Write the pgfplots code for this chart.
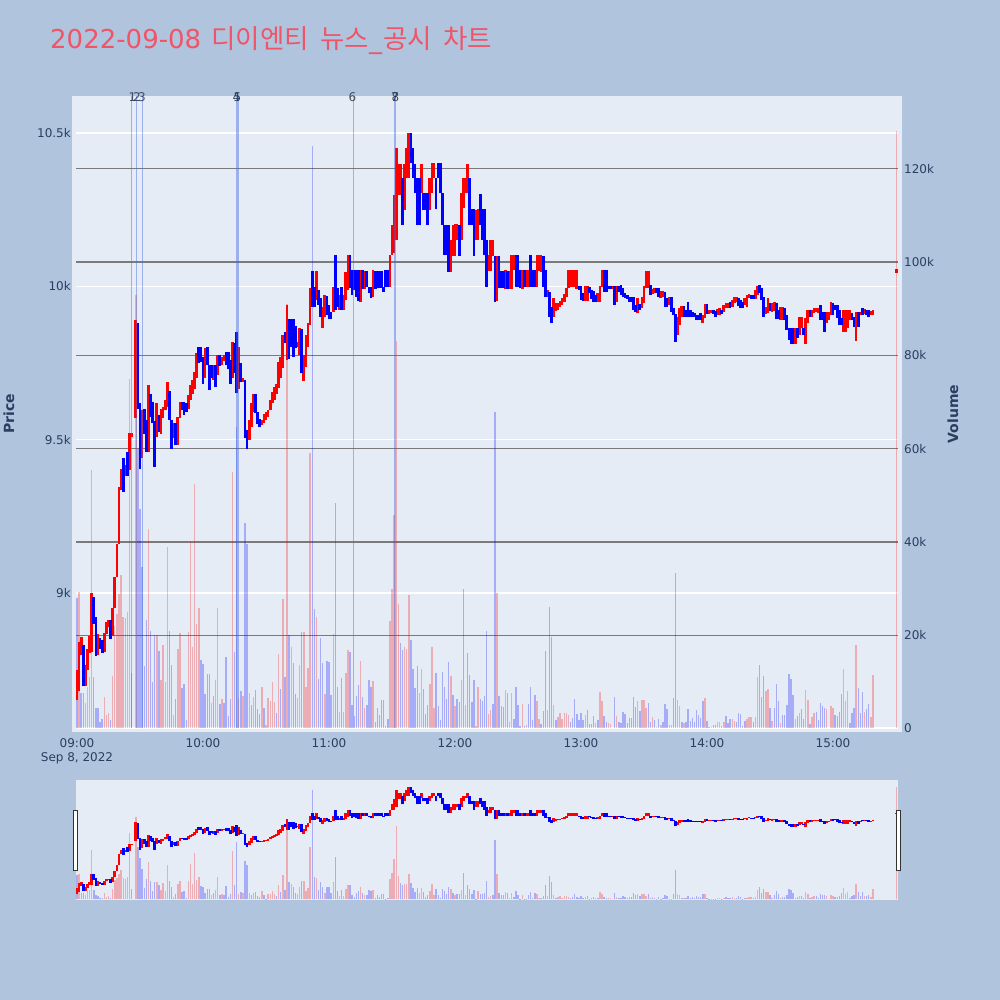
\documentclass[border=0pt]{standalone}
\usepackage{pgfplots}
\usepackage{pgfplotstable}
\pgfplotsset{compat=1.18}
\usepackage{fontspec}
\setmainfont{DejaVu Sans}
\newfontfamily\krfont{Noto Sans CJK KR}
\definecolor{pagebg}{HTML}{B0C4DE}
\definecolor{plotbg}{HTML}{E5ECF6}
\definecolor{tickc}{HTML}{2A3F5F}
\definecolor{titlec}{HTML}{EF5567}
\definecolor{newsc}{HTML}{4169E1}
\pgfplotstableread{
m lo hi
0 8650 8750
1 8680 8840
2 8797 8857
4 8696 8765
5 8749 8819
6 8803 8860
7 8808 8999
10 8797 8868
13 8808 8870
14 8868 8906
15 8890 8911
17 8860 8950
18 8950 9053
19 9053 9159
20 9159 9346
21 9336 9403
23 9381 9417
25 9401 9522
26 9510 9522
28 9570 9890
31 9439 9596
34 9460 9678
38 9509 9620
40 9520 9600
41 9570 9607
42 9596 9629
43 9607 9689
46 9504 9553
48 9482 9575
49 9570 9624
53 9600 9645
54 9630 9678
55 9650 9694
56 9665 9721
57 9700 9781
61 9700 9798
65 9696 9743
67 9711 9776
69 9743 9770
70 9757 9776
74 9700 9819
77 9664 9801
79 9689 9700
82 9500 9564
83 9540 9618
84 9590 9649
88 9548 9564
89 9553 9585
90 9564 9591
91 9575 9596
92 9596 9629
93 9620 9656
94 9630 9672
95 9650 9683
96 9670 9754
97 9700 9770
98 9733 9841
100 9760 9939
105 9803 9819
106 9776 9863
108 9692 9776
109 9738 9841
110 9803 9879
111 9874 9993
114 9955 10050
117 9863 9931
118 9901 9971
122 9917 9999
125 9923 9971
127 9923 9971
128 9955 10048
129 9988 10102
135 9948 10053
137 9990 10050
141 9966 10053
149 9999 10102
150 10102 10200
151 10107 10298
152 10151 10450
153 10298 10399
154 10298 10399
156 10249 10399
157 10352 10450
158 10352 10499
164 10303 10399
168 10249 10352
169 10303 10403
170 10352 10403
178 10048 10151
179 10099 10200
180 10099 10203
181 10151 10203
183 10151 10303
184 10254 10352
185 10303 10352
186 10303 10399
190 10151 10249
191 10151 10251
196 10050 10102
197 10050 10151
198 10100 10151
200 9953 10100
204 9991 10053
206 9991 10050
207 9991 10102
208 10053 10102
212 9991 10053
214 9999 10053
215 9999 10053
219 9999 10102
220 10050 10102
221 10048 10102
224 9966 9988
227 9899 9961
228 9920 9944
229 9923 9944
230 9933 9953
231 9939 9961
232 9950 9975
233 9966 9993
234 9993 10053
235 9999 10053
236 9999 10053
237 9999 10053
238 9991 10053
242 9953 10002
243 9953 10002
248 9948 9977
249 9948 10002
250 9999 10053
255 9991 10002
257 9950 10002
267 9912 9961
269 9928 9966
270 9944 10000
271 9993 10051
272 9993 10051
274 9975 9990
275 9977 9993
278 9961 9986
279 9964 9986
282 9939 9964
286 9841 9901
287 9874 9928
288 9901 9936
298 9881 9906
299 9896 9942
301 9910 9923
302 9912 9923
305 9906 9925
306 9906 9928
308 9917 9939
309 9928 9944
310 9928 9944
312 9934 9955
313 9944 9964
314 9950 9964
318 9939 9961
319 9934 9972
320 9961 9975
323 9958 9988
324 9972 10001
328 9910 9934
329 9912 9961
331 9917 9944
332 9921 9950
335 9890 9934
336 9890 9934
342 9811 9863
344 9841 9899
345 9863 9899
347 9811 9896
348 9881 9923
350 9901 9923
351 9914 9930
352 9917 9930
353 9912 9930
357 9881 9917
358 9890 9917
359 9906 9950
365 9852 9923
366 9852 9923
367 9863 9923
368 9890 9923
371 9822 9915
373 9906 9917
375 9910 9925
378 9906 9919
379 9906 9923
390.3 10045 10055
}\redcandles
\pgfplotstableread{
m lo hi
3 8696 8832
8 8900 8988
9 8794 8922
11 8819 8852
12 8805 8846
16 8849 8911
22 9330 9439
24 9381 9460
29 9600 9880
30 9406 9620
32 9520 9600
33 9460 9564
35 9575 9649
36 9553 9624
37 9411 9560
39 9526 9580
44 9564 9658
45 9471 9564
47 9482 9553
50 9596 9624
51 9580 9624
52 9590 9620
58 9750 9801
59 9754 9801
60 9681 9770
62 9743 9801
63 9662 9743
64 9700 9743
66 9673 9743
68 9740 9776
71 9743 9787
72 9732 9787
73 9681 9760
75 9716 9814
76 9651 9850
78 9689 9749
80 9504 9694
81 9471 9531
85 9588 9649
86 9551 9591
87 9542 9569
99 9814 9852
101 9762 9892
102 9803 9892
103 9770 9892
104 9798 9870
107 9716 9860
112 9933 10050
113 9931 9999
115 9939 9988
116 9901 9961
119 9906 9968
120 9892 9939
121 9892 9917
123 9923 10102
124 9933 9993
126 9923 9999
130 9993 10102
131 9971 10053
132 9988 10053
133 9966 10053
134 9953 10053
136 9990 10053
138 9999 10050
139 9977 9999
140 9961 9999
142 9991 10050
143 9993 10050
144 9993 10050
145 9996 10050
146 9980 9999
147 9999 10053
148 9999 10053
155 10200 10352
159 10401 10499
160 10352 10450
161 10303 10399
162 10200 10352
163 10200 10352
165 10249 10303
166 10249 10303
167 10200 10303
171 10251 10352
172 10352 10401
173 10303 10401
174 10200 10303
175 10102 10200
176 10102 10200
177 10048 10200
182 10100 10200
187 10200 10352
188 10200 10251
189 10100 10251
192 10200 10301
193 10151 10251
194 10102 10251
195 9999 10151
199 9950 10100
201 9993 10100
202 9993 10050
203 9993 10050
205 9991 10050
209 9999 10102
210 9999 10102
211 9993 10053
213 9999 10053
216 9999 10102
217 9999 10053
218 9999 10053
222 9999 10100
223 9966 10053
225 9901 9982
226 9882 9933
239 9988 10002
240 9955 10002
241 9953 9977
244 9977 9999
245 9958 9988
246 9948 9984
247 9948 9972
251 9982 10053
252 9982 10053
253 9991 10002
254 9991 10002
256 9939 10002
258 9982 10002
259 9972 10004
260 9966 9993
261 9961 9979
262 9958 9972
263 9950 9966
264 9950 9964
265 9923 9964
266 9917 9939
268 9923 9941
273 9972 10004
276 9977 9993
277 9966 9993
280 9934 9982
281 9934 9961
283 9917 9964
284 9906 9928
285 9819 9910
289 9899 9936
290 9899 9923
291 9901 9950
292 9901 9923
293 9899 9917
294 9899 9914
295 9890 9906
296 9890 9906
297 9890 9914
300 9910 9942
303 9910 9923
304 9901 9921
307 9910 9923
311 9928 9950
315 9936 9961
316 9928 9955
317 9928 9950
321 9958 9972
322 9958 9972
325 9977 10004
326 9955 9993
327 9901 9966
330 9921 9944
333 9892 9944
334 9892 9923
337 9890 9928
338 9857 9906
339 9825 9863
340 9811 9863
341 9811 9863
343 9830 9863
346 9841 9863
349 9899 9923
354 9890 9939
355 9890 9917
356 9852 9917
360 9906 9944
361 9923 9939
362 9896 9939
363 9874 9923
364 9874 9896
369 9890 9912
370 9868 9901
372 9868 9917
374 9906 9928
376 9906 9923
377 9899 9923
}\bluecandles
\pgfplotstableread{
m v
1 29.3
4 5.4
5 9
6 11
7 55.5
13 6.8
14 2.9
15 3.4
17 11.2
18 22
19 24.5
20 28.8
21 33
22 24
23 23.6
24 25
25 75
28 93
34 42.7
38 20
40 10.5
41 18
42 10
43 39
46 2.9
48 17
49 20.4
53 20.6
54 40
55 17.4
56 52.4
57 22.5
58 25.9
64 5.4
66 10.4
67 25.9
69 6.3
74 55
77 6.6
79 6.9
82 7.7
84 6.8
88 9
90 0.7
91 6.6
92 5.9
93 10
94 5.7
96 16
98 27.7
100 91
102 17.5
105 6.6
106 13.6
108 20.6
109 9
110 12.9
111 59
114 23.8
118 7.5
122 20.2
125 3.6
127 3.6
128 11.9
129 16.8
135 14.4
137 4.5
141 10.2
149 23
150 30
151 45.7
152 83
153 26.7
156 17.4
157 17
158 28.7
163 7.7
164 12.8
168 9.5
169 17.4
170 4.4
178 11.2
180 4.8
183 10.4
185 5
190 0.6
191 9
196 3.1
197 3.9
200 29
204 8.2
206 1.4
207 7.7
212 5.2
214 0.7
219 5.9
220 2
224 4
227 5.1
229 2.4
230 3.4
231 2
232 3.4
233 3.4
234 3
242 3
247 1.1
249 7.9
250 5.8
253 1.1
254 1
257 2.6
267 5.9
269 6.1
270 6.1
271 4.3
274 2.5
276 0.4
278 0.8
282 0.7
283 0.7
286 6.1
287 4.8
289 1.1
299 6.5
302 0.3
305 1.3
306 1.3
308 1.5
312 2.1
313 1.6
319 2
320 2.4
321 2.4
323 2.5
324 11.1
328 8.1
329 8.4
331 1.6
335 1.2
342 2
344 3.3
347 8.3
348 6.1
350 2.5
351 3.4
357 4.2
359 4.9
360 4.3
365 12.7
366 5.8
367 8
371 17.8
375 3.6
378 2.5
379 11.4
390.3 128
}\redvol
\pgfplotstableread{
m v
0 27.9
2 7.6
3 7.6
8 11
9 4.5
10 4.3
11 1.4
12 2
16 1.8
26 11.8
29 60
30 47
31 34.7
32 13.4
33 23.2
35 21
36 10
37 20
39 16.7
44 21
45 13.6
47 6.4
50 8.6
51 9.6
52 1.9
59 14.6
60 13.8
61 7.4
62 11.6
63 11.6
65 7
68 5.2
70 5.4
71 15.4
72 2.6
73 6.3
75 16.4
76 64.7
78 8
80 44
81 39.5
83 5
85 8.2
86 4.1
87 3.2
89 4.5
95 3.4
97 8.4
99 11
101 20
103 14
104 7.4
107 20.6
112 124.8
113 25.6
115 10.7
116 19.4
117 14
119 14.4
120 14.2
121 7.2
123 48.3
124 9
126 10.9
130 16.4
131 5
132 2.7
133 7
134 9.4
136 6.8
138 5
139 10.4
140 9
142 1.3
143 4.5
144 3
145 6.1
146 6.2
147 0.6
148 2
154 18.3
155 16.8
159 19
160 12.7
161 8.6
162 13.4
165 8.5
166 3.2
167 5
171 11.8
172 4.8
173 1.8
174 12.2
175 9
176 6.3
177 14.3
179 7.2
181 6.4
182 5.7
184 30
186 16.1
187 11.4
188 5.7
189 10.4
192 6.3
193 5.9
194 6.9
195 21
198 5.2
199 67.8
201 6.9
202 4.8
203 4.6
205 7.7
208 2.1
209 9
210 5
211 0.6
213 0.5
215 5.3
216 8.8
217 1.8
218 7.2
221 1
222 3.8
223 16.7
225 26
226 19.7
228 1.8
235 1.4
236 2.2
237 6.4
238 3.2
239 1.9
240 3.4
241 1.9
243 4
244 0.9
245 1
246 2.6
248 1.8
251 2.6
252 1.3
256 6.8
258 1.3
259 1.1
260 3.5
261 3.2
262 1.1
263 2.3
264 2.3
265 6.7
266 4.7
268 3.8
272 5.5
273 1.5
275 1.8
277 2.1
279 1.3
280 5.3
281 4.2
284 6.5
285 33.3
288 1.5
290 1.4
291 4.1
292 1.6
293 2.2
294 1.3
295 3.9
296 2.8
297 2.3
298 5.8
300 1.6
301 0.3
303 0.7
304 0.7
307 0.5
309 2.6
310 1.1
311 2
314 1.3
315 3.3
316 3.1
317 0.5
318 1.6
322 1.3
325 13.7
326 6.7
327 11.3
330 4.5
332 4.5
333 9.5
334 5.9
336 2.9
337 3
338 5
339 11.6
340 10.7
341 7.2
343 2.6
345 4.1
346 2
349 1
352 3.5
353 1.8
354 5.5
355 4.9
356 4.5
361 2.8
362 2.7
363 3.5
364 7.4
368 1.1
369 3.4
370 4.5
372 8.6
373 3.3
374 7.8
376 4.1
377 5.3
}\bluevol
\pgfplotsset{
  base/.style={scale only axis, width=830pt, height=636pt, at={(72pt,268pt)}, anchor=south west,
    xmin=-2.38, xmax=392.86, axis line style={draw=none}, major tick length=0pt, clip=true,
    xtick=\empty, ytick=\empty, scaled ticks=false,
    tick label style={font=\fontsize{12}{12}\selectfont, text=tickc}},
  priceaxis/.style={ymin=8547, ymax=10620.5},
  volaxis/.style={ymin=-0.75, ymax=135.6},
  mini/.style={scale only axis, width=822pt, height=120pt, at={(76pt,100pt)}, anchor=south west,
    xmin=-0.48, xmax=390.95, axis line style={draw=none}, major tick length=0pt, clip=true,
    xtick=\empty, ytick=\empty, scaled ticks=false},
  candle/.style={draw=none, mark=none, error bars/.cd, y dir=plus, y explicit,
    error mark=none, error bar style={line width=2.7pt, solid, draw=#1}},
  vol/.style={ycomb, mark=none, draw=#1, draw opacity=0.27, line width=1.4pt},
  news/.style={draw=newsc, draw opacity=0.45, line width=#1},
}
\newcommand{\candles}{%
  \addplot[candle=red] table[x=m,y=lo,y error plus expr=\thisrow{hi}-\thisrow{lo}] {\redcandles};
  \addplot[candle=blue] table[x=m,y=lo,y error plus expr=\thisrow{hi}-\thisrow{lo}] {\bluecandles};
}
\newcommand{\volumes}{%
  \addplot[vol=red] table[x=m,y=v] {\redvol};
  \addplot[vol=blue] table[x=m,y=v] {\bluevol};
}
\begin{document}
\begin{tikzpicture}
\fill[pagebg] (0pt,0pt) rectangle (1000pt,1000pt);
% price axis: background, white grid, price ticks
\begin{axis}[base, priceaxis, axis background/.style={fill=plotbg},
  ytick={9000,9500,10000,10500}, yticklabels={9k,9.5k,10k,10.5k},
  yticklabel style={inner sep=0pt, xshift=-1pt},
  xtick={0,60,120,180,240,300,360}, xticklabels={09:00,10:00,11:00,12:00,13:00,14:00,15:00},
  xticklabel style={inner sep=0pt, yshift=-6pt}]
\addplot[white, line width=1.3pt] coordinates {(-0.48,9000) (390.95,9000)};
\addplot[white, line width=1.3pt] coordinates {(-0.48,9500) (390.95,9500)};
\addplot[white, line width=1.3pt] coordinates {(-0.48,10000) (390.95,10000)};
\addplot[white, line width=1.3pt] coordinates {(-0.48,10500) (390.95,10500)};
\end{axis}
% volume axis: grid, bars
\begin{axis}[base, volaxis, ytick pos=right, yticklabel pos=right,
  ytick={0,20,40,60,80,100,120}, yticklabels={0,20k,40k,60k,80k,100k,120k},
  yticklabel style={inner sep=0pt, xshift=2pt}]
\addplot[white, line width=2pt] coordinates {(-0.48,0) (390.95,0)};
\addplot[black!52, line width=1.2pt] coordinates {(-0.48,20) (390.95,20)};
\addplot[black!52, line width=1.2pt] coordinates {(-0.48,40) (390.95,40)};
\addplot[black!52, line width=1.2pt] coordinates {(-0.48,60) (390.95,60)};
\addplot[black!52, line width=1.2pt] coordinates {(-0.48,80) (390.95,80)};
\addplot[black!52, line width=1.2pt] coordinates {(-0.48,100) (390.95,100)};
\addplot[black!52, line width=1.2pt] coordinates {(-0.48,120) (390.95,120)};
\volumes
\end{axis}
% candles
\begin{axis}[base, priceaxis]
\candles
\end{axis}
% news lines
\begin{axis}[base, volaxis]
\addplot[news=1.1pt] coordinates {(26,0) (26,135.6)};
\addplot[news=1.1pt] coordinates {(28.4,0) (28.4,135.6)};
\addplot[news=1.1pt] coordinates {(31,0) (31,135.6)};
\addplot[news=1.1pt] coordinates {(76,0) (76,135.6)};
\addplot[news=1.4pt] coordinates {(76.7,0) (76.7,135.6)};
\addplot[news=1.1pt] coordinates {(131.6,0) (131.6,135.6)};
\addplot[news=1.4pt] coordinates {(151.3,0) (151.3,135.6)};
\addplot[news=1.4pt] coordinates {(151.6,0) (151.6,135.6)};
\end{axis}
% range slider
\begin{axis}[mini, volaxis, axis background/.style={fill=plotbg}]
\volumes
\end{axis}
\begin{axis}[mini, priceaxis]
\candles
\end{axis}
\fill[white, draw=black!80, line width=0.9pt] (73.5pt,130pt) rectangle (77pt,190pt);
\fill[white, draw=black!80, line width=0.9pt] (896.5pt,130pt) rectangle (900pt,190pt);
% text
\node[anchor=west, inner sep=0pt, text=titlec] at (50pt,959pt) {\fontsize{26}{26}\selectfont 2022-09-08\hspace{2pt} {\krfont\fontsize{26.5}{26}\selectfont 디이엔티}\hspace{3pt} {\krfont\fontsize{26.5}{26}\selectfont 뉴스}\_\hspace{1pt}{\krfont\fontsize{26.5}{26}\selectfont 공시}\hspace{3.5pt} {\krfont\fontsize{26.5}{26}\selectfont 차트}};
\node[anchor=center, inner sep=0pt, text=tickc] at (77pt,241.5pt) {\fontsize{12}{12}\selectfont Sep 8, 2022};
\node[rotate=90, inner sep=0pt, text=tickc] at (9pt,586pt) {\fontsize{14}{14}\selectfont\bfseries Price};
\node[rotate=90, inner sep=0pt, text=tickc] at (953pt,586pt) {\fontsize{14}{14}\selectfont\bfseries Volume};
\foreach \x/\t in {132.5/1,137/2,142/3,236.5/4,237.5/5,352.5/6,395/7,395.5/8}
  \node[inner sep=0pt, text=tickc!70!black, opacity=0.8] at (\x pt,903pt) {\fontsize{12}{12}\selectfont \t};
\end{tikzpicture}
\end{document}
